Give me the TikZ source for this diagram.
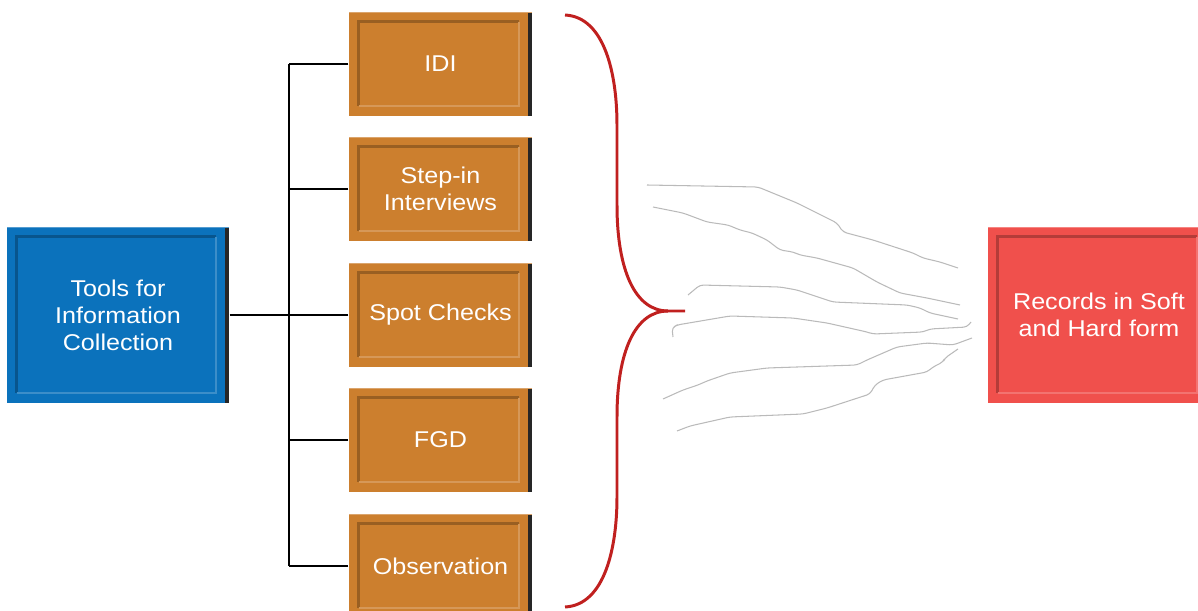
\documentclass[tikz,border=0pt]{standalone}
\usepackage{fontspec}
\setmainfont{Liberation Sans}[FakeStretch=1.1]
\usetikzlibrary{calc}

\definecolor{toolblue}{HTML}{0B72BC}
\definecolor{toolorange}{HTML}{CC7F2E}
\definecolor{recred}{HTML}{F0504C}
\definecolor{bracered}{HTML}{C0201F}

\begin{document}
\begin{tikzpicture}[x=0.02cm,y=-0.02cm,line width=0.6pt,
  box/.style={fill=#1,text=white,align=center,inner sep=0pt,
    font=\fontsize{13}{15.3}\selectfont,
    path picture={
      \fill[black!85] ([xshift=-2.5pt]path picture bounding box.north east) rectangle (path picture bounding box.south east);
      \draw[#1!75!black,line width=1.3pt] ([shift={(0.19cm,0.2cm)}]path picture bounding box.south west) |- ([shift={(-0.26cm,-0.19cm)}]path picture bounding box.north east);
      \draw[#1!80!white,line width=1.5pt] ([shift={(0.19cm,0.2cm)}]path picture bounding box.south west) -| ([shift={(-0.26cm,-0.19cm)}]path picture bounding box.north east);
      \draw[#1!70!white,line width=1pt] (path picture bounding box.north west) -- (path picture bounding box.north east);
    }},
  tool/.style={box=toolorange,minimum width=3.66cm,minimum height=2.08cm},
  scribble/.style={black!27,line width=0.6pt,rounded corners=2pt}]
  \useasboundingbox (0,0) rectangle (1198,611);

  % left box and the tools
  \node[box=toolblue,minimum width=4.44cm,minimum height=3.52cm] (tools) at (118,315) {Tools for\\Information\\Collection};
  \node[tool] (idi) at (440.5,64) {IDI};
  \node[tool] (step) at (440.5,189) {Step-in\\Interviews};
  \node[tool] (spot) at (440.5,315) {Spot Checks};
  \node[tool] (fgd) at (440.5,440) {FGD};
  \node[tool] (obs) at (440.5,566) {Observation};
  \node[box=recred,minimum width=4.44cm,minimum height=3.52cm] (records) at (1099,315) {Records in Soft\\and Hard form};

  % tree
  \coordinate (trunk) at (289,315);
  \draw (tools.east) -- (trunk);
  \draw (idi.west -| trunk) -- (obs.west -| trunk);
  \foreach \n in {idi,step,spot,fgd,obs}
    \draw (\n.west) -- (\n.west -| trunk);

  % brace
  \draw[bracered,line width=1.7pt]
    (565,15) .. controls (605,17) and (617,75) .. (617,125) -- (617,205)
    .. controls (617,270) and (635,311) .. (668,311) -- (685,311);
  \draw[bracered,line width=1.7pt]
    (565,607) .. controls (605,605) and (617,547) .. (617,497) -- (617,417)
    .. controls (617,352) and (635,311) .. (668,311);

  % scribbled lines
  \draw[scribble] (647,185) -- (758,187) -- (797,203) -- (837,223) -- (843,232) -- (873,240) -- (913,253) -- (923,258) -- (940,262) -- (958,268);
  \draw[scribble] (653,207) -- (683,213) -- (707,222) -- (728,225) -- (740,230) -- (752,233) -- (767,240) -- (780,250) -- (793,252) -- (800,255) -- (817,258) -- (853,268) -- (877,282) -- (900,293) -- (927,298) -- (960,305);
  \draw[scribble] (688,295) -- (700,285) -- (780,287) -- (797,290) -- (833,302) -- (907,305) -- (920,308) -- (930,313) -- (958,319);
  \draw[scribble] (673,337) -- (672,328) -- (677,325) -- (730,316) -- (793,318) -- (827,323) -- (867,332) -- (873,334) -- (923,332) -- (930,329) -- (967,327) -- (971,322);
  \draw[scribble] (663,399) -- (683,390) -- (698,385) -- (707,381) -- (730,373) -- (767,368) -- (857,365) -- (867,360) -- (897,347) -- (927,343) -- (953,345) -- (972,338);
  \draw[scribble] (677,431) -- (690,426) -- (730,417) -- (803,414) -- (827,408) -- (870,394) -- (875,385) -- (883,380) -- (927,372) -- (933,367) -- (943,362) -- (945,358) -- (958,349);
\end{tikzpicture}
\end{document}
